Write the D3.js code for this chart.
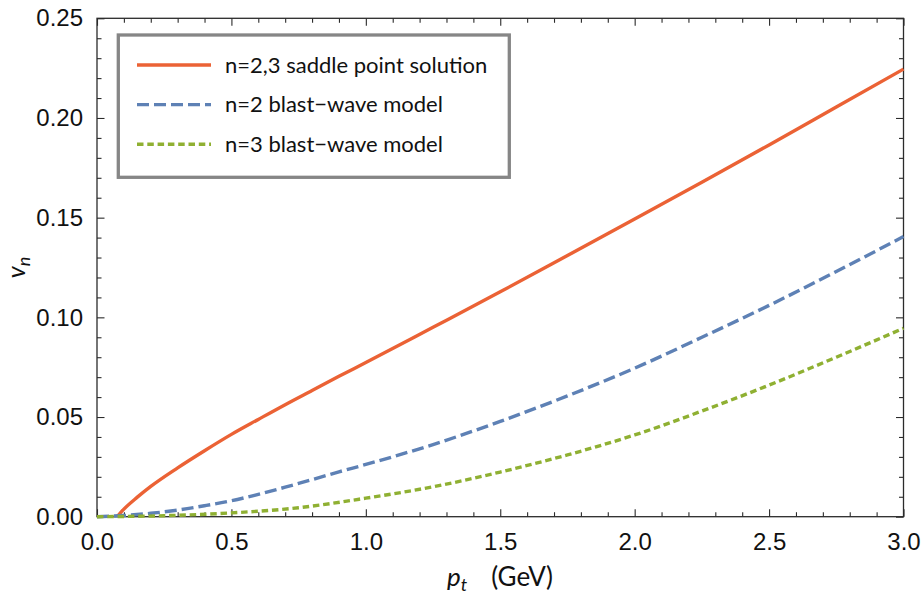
<!DOCTYPE html>
<html>
<head>
<meta charset="utf-8">
<script src="https://cdn.jsdelivr.net/npm/d3@7/dist/d3.min.js"></script>
<style>
  html, body { margin: 0; padding: 0; background: #fff; }
  svg { display: block; }
</style>
</head>
<body>
<svg id="chart" width="922" height="597"></svg>
<script>
// v_n versus p_t for the saddle point solution and blast-wave model
const redPt   = [0.075, 0.1, 0.15, 0.2, 0.3, 0.4, 0.5, 0.6, 0.7, 0.8, 0.9, 1.0, 1.25, 1.5, 1.75, 2.0, 2.25, 2.5, 2.75, 3.0];
const redV    = [0, 0.0038, 0.0098, 0.0152, 0.0245, 0.0331, 0.0413, 0.0488, 0.0562, 0.0633, 0.0704, 0.0773, 0.095, 0.1128, 0.131, 0.1493, 0.1678, 0.1865, 0.2055, 0.2245];

const bluePt  = [0, 0.1, 0.2, 0.3, 0.4, 0.5, 0.6, 0.7, 0.8, 0.9, 1.0, 1.25, 1.5, 1.75, 2.0, 2.25, 2.5, 2.75, 3.0];
const blueV   = [0, 0.0006, 0.0017, 0.0033, 0.0055, 0.008, 0.0112, 0.0148, 0.0186, 0.0225, 0.0262, 0.0362, 0.0478, 0.0606, 0.0745, 0.090, 0.106, 0.123, 0.1405];

const greenPt = [0, 0.25, 0.5, 0.75, 1.0, 1.25, 1.5, 1.75, 2.0, 2.25, 2.5, 2.75, 3.0];
const greenV  = [0, 0.0005, 0.0019, 0.0045, 0.0093, 0.015, 0.0224, 0.031, 0.041, 0.053, 0.066, 0.080, 0.0945];

const seriesNames = ["n=2,3 saddle point solution", "n=2 blast\u2212wave model", "n=3 blast\u2212wave model"];
const xTicks = [0, 0.5, 1.0, 1.5, 2.0, 2.5, 3.0];
const yTicks = [0, 0.05, 0.10, 0.15, 0.20, 0.25];

const series = [
  { name: seriesNames[0], pt: redPt,   v: redV,   color: "#EB6235", dash: null },
  { name: seriesNames[1], pt: bluePt,  v: blueV,  color: "#5E81B5", dash: "12,5" },
  { name: seriesNames[2], pt: greenPt, v: greenV, color: "#8FB032", dash: "6.5,3.8" }
];

const svg = d3.select("#chart");
const m = { left: 97, right: 922 - 903.5, top: 18.3, bottom: 597 - 516.7 };
const W = 922, H = 597;

const x = d3.scaleLinear().domain([0, 3]).range([m.left, W - m.right]);
const y = d3.scaleLinear().domain([0, 0.25]).range([H - m.bottom, m.top]);

const frameColor = "#2b2b2b";
const tickFont = "'Liberation Sans', Arial, sans-serif";
const labelFont = "Lato, 'Open Sans', sans-serif";

// tick values: major every 0.5 / 0.05, minor every 0.1 / 0.01
const xMinor = d3.range(0, 31).map(i => i / 10).filter(v => !xTicks.some(t => Math.abs(t - v) < 1e-9));
const yMinor = d3.range(0, 26).map(i => i / 100).filter(v => !yTicks.some(t => Math.abs(t - v) < 1e-9));

const MAJ = 7.5, MIN = 4.5;

function styleAxis(g) {
  g.select(".domain").remove();
  g.selectAll(".tick line").attr("stroke", frameColor).attr("stroke-width", 1.1);
}

// bottom axis with labels
svg.append("g").attr("transform", `translate(0,${y(0)})`)
  .call(d3.axisBottom(x).tickValues(xTicks).tickSize(-MAJ).tickPadding(16).tickFormat(d3.format(".1f")))
  .call(styleAxis)
  .call(g => g.selectAll("text").attr("font-family", tickFont).attr("font-size", 24).attr("fill", "#111"));
svg.append("g").attr("transform", `translate(0,${y(0)})`)
  .call(d3.axisBottom(x).tickValues(xMinor).tickSize(-MIN).tickFormat(""))
  .call(styleAxis);

// top mirrored ticks
svg.append("g").attr("transform", `translate(0,${y(0.25)})`)
  .call(d3.axisTop(x).tickValues(xTicks).tickSize(-MAJ).tickFormat(""))
  .call(styleAxis);
svg.append("g").attr("transform", `translate(0,${y(0.25)})`)
  .call(d3.axisTop(x).tickValues(xMinor).tickSize(-MIN).tickFormat(""))
  .call(styleAxis);

// left axis with labels
svg.append("g").attr("transform", `translate(${x(0)},0)`)
  .call(d3.axisLeft(y).tickValues(yTicks).tickSize(-MAJ).tickPadding(14).tickFormat(d3.format(".2f")))
  .call(styleAxis)
  .call(g => g.selectAll("text").attr("font-family", tickFont).attr("font-size", 24).attr("fill", "#111"));
svg.append("g").attr("transform", `translate(${x(0)},0)`)
  .call(d3.axisLeft(y).tickValues(yMinor).tickSize(-MIN).tickFormat(""))
  .call(styleAxis);

// right mirrored ticks
svg.append("g").attr("transform", `translate(${x(3)},0)`)
  .call(d3.axisRight(y).tickValues(yTicks).tickSize(-MAJ).tickFormat(""))
  .call(styleAxis);
svg.append("g").attr("transform", `translate(${x(3)},0)`)
  .call(d3.axisRight(y).tickValues(yMinor).tickSize(-MIN).tickFormat(""))
  .call(styleAxis);

// frame
svg.append("rect")
  .attr("x", x(0)).attr("y", y(0.25))
  .attr("width", x(3) - x(0)).attr("height", y(0) - y(0.25))
  .attr("fill", "none").attr("stroke", frameColor).attr("stroke-width", 1.3);

// curves
const line = d3.line().x(d => x(d[0])).y(d => y(d[1])).curve(d3.curveMonotoneX);
series.forEach(s => {
  const pts = s.pt.map((p, i) => [p, s.v[i]]);
  svg.append("path")
    .datum(pts)
    .attr("d", line)
    .attr("fill", "none")
    .attr("stroke", s.color)
    .attr("stroke-width", 3.4)
    .attr("stroke-dasharray", s.dash);
});

// legend
const lg = svg.append("g");
lg.append("rect")
  .attr("x", 118.3).attr("y", 35)
  .attr("width", 509.3 - 118.3).attr("height", 177.3 - 35)
  .attr("fill", "#fff").attr("stroke", "#868686").attr("stroke-width", 3.3);
series.forEach((s, i) => {
  const yy = 65 + i * 39.6;
  lg.append("line")
    .attr("x1", 137).attr("x2", 211)
    .attr("y1", yy).attr("y2", yy)
    .attr("stroke", s.color).attr("stroke-width", 3.4)
    .attr("stroke-dasharray", s.dash);
  lg.append("text")
    .attr("x", 225).attr("y", yy + 7.5)
    .attr("font-family", labelFont).attr("font-size", 22)
    .attr("fill", "#111")
    .text(s.name);
});

// axis titles
const xl = svg.append("text")
  .attr("x", 500).attr("y", 586)
  .attr("text-anchor", "middle")
  .attr("font-family", labelFont).attr("font-size", 26).attr("fill", "#111");
xl.append("tspan").attr("font-style", "italic").text("p");
xl.append("tspan").attr("font-style", "italic").attr("font-size", 18).attr("dy", 5).text("t");
xl.append("tspan").attr("dy", -5).attr("dx", 24).text("(GeV)");

const yl = svg.append("text")
  .attr("transform", `translate(25,${(y(0) + y(0.25)) / 2}) rotate(-90)`)
  .attr("text-anchor", "middle")
  .attr("font-family", labelFont).attr("font-size", 25).attr("fill", "#111");
yl.append("tspan").attr("font-style", "italic").text("v");
yl.append("tspan").attr("font-style", "italic").attr("font-size", 18).attr("dy", 5).text("n");
</script>
</body>
</html>
